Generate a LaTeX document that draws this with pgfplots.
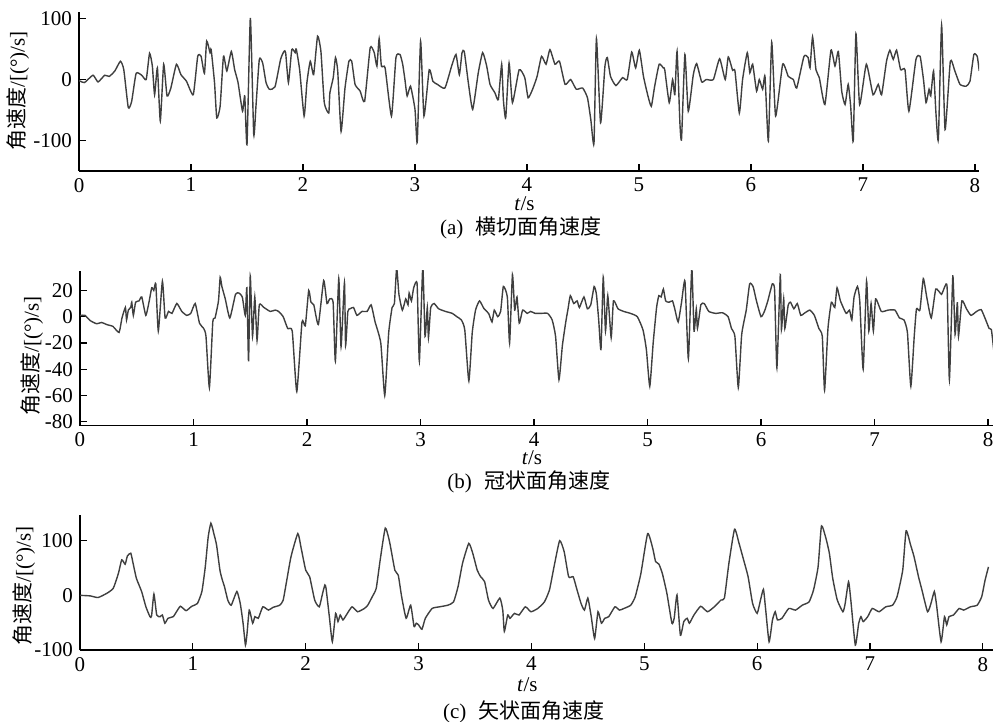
\documentclass[border=0pt]{standalone}
\usepackage{fontspec}
\setmainfont{Liberation Serif}
\newfontfamily\cjk{Noto Sans CJK SC}
\usepackage{pgfplots}
\pgfplotsset{compat=1.18}
\definecolor{trace}{HTML}{3F3F3F}
\pgfplotsset{
  panel/.style={
    scale only axis,
    anchor=south west,
    axis x line*=bottom, axis y line*=left,
    axis line style={black, line width=0.7bp},
    xmin=0, xtick={0,...,8},
    tick align=inside,
    major tick length=3.3bp,
    tick style={black, line width=0.6bp},
    tick label style={font=\fontsize{10.5bp}{12bp}\selectfont},
    /pgf/number format/assume math mode=true,
    label style={font=\fontsize{10.5bp}{12bp}\selectfont},
    xlabel={\textit{t}/s},
    ylabel={{\cjk 角速度}/[(°)/s]},
  },
  trace/.style={color=trace, line width=0.7bp, mark=none, smooth, tension=0.3},
}
\newcommand\capfont{\fontsize{10.5bp}{12bp}\selectfont}
\begin{document}
\begin{tikzpicture}
\useasboundingbox (0,0) rectangle (496.5bp,361bp);

% (a) 横切面
\begin{axis}[panel,
  at={(39.5bp,275.5bp)}, width=450bp, height=79.3bp,
  xmax=8.036, ymin=-150, ymax=110, ytick={-100,0,100},
  xlabel style={at={(axis description cs:0.495,0)}, anchor=center, yshift=-16.5bp},
  ylabel style={at={(axis description cs:-0.0678,0.506)}, anchor=center},
]
\addplot[trace] table {
0 -2
0.015 -3
0.05 -5
0.125 7
0.17 -4
0.23 7
0.27 5
0.32 14
0.37 30
0.40 16
0.44 -46
0.47 -36
0.51 10
0.56 7
0.60 0
0.63 43
0.655 22
0.675 -25
0.70 19
0.726 -68
0.756 25
0.786 -27
0.82 -14
0.87 25
0.91 8
0.96 -3
1.02 -25
1.06 38
1.09 38
1.12 10
1.14 63
1.17 44
1.18 49
1.21 -5
1.23 -63
1.26 -44
1.29 38
1.32 14
1.36 46
1.39 16
1.42 -5
1.46 -52
1.48 -27
1.50 -107
1.53 101
1.56 -90
1.58 -44
1.61 33
1.64 27
1.67 -5
1.70 -16
1.75 -12
1.80 33
1.83 46
1.845 44
1.87 -5
1.90 49
1.93 44
1.94 50
1.97 16
2.01 -60
2.035 -5
2.065 30
2.095 8
2.13 71
2.16 46
2.19 -38
2.23 -55
2.24 -22
2.27 3
2.29 36
2.31 14
2.34 -85
2.375 -14
2.41 30
2.435 30
2.465 -8
2.51 -19
2.55 -36
2.60 52
2.636 44
2.66 22
2.68 67
2.70 22
2.733 19
2.79 -60
2.83 36
2.866 41
2.89 25
2.91 0
2.93 -27
2.96 -11
3.00 -49
3.02 -103
3.05 63
3.08 -60
3.127 16
3.16 -3
3.20 -8
3.267 -14
3.327 22
3.366 41
3.396 8
3.42 44
3.44 46
3.476 -5
3.515 -49
3.565 11
3.604 44
3.64 22
3.67 -8
3.714 -22
3.744 -33
3.774 25
3.789 -33
3.81 -63
3.84 27
3.87 -38
3.93 16
3.98 3
4.01 -30
4.05 -16
4.09 5
4.13 38
4.17 25
4.205 49
4.25 25
4.29 30
4.34 -8
4.39 0
4.44 -16
4.497 -14
4.54 -30
4.57 -66
4.598 -105
4.62 67
4.657 -71
4.696 22
4.717 36
4.746 5
4.794 -10
4.853 3
4.895 0
4.935 45
4.97 19
5.003 48
5.04 5
5.08 -27
5.11 -44
5.14 -11
5.18 25
5.217 19
5.23 16
5.27 -38
5.30 0
5.32 -25
5.34 46
5.366 -74
5.38 -97
5.41 41
5.44 -52
5.485 8
5.515 26
5.56 -4
5.60 0
5.664 0
5.72 34
5.77 0
5.797 37
5.836 15
5.857 14
5.896 -55
5.925 0
5.967 44
5.99 11
6.015 25
6.05 -19
6.074 0
6.104 -16
6.125 5
6.155 -101
6.185 61
6.22 -60
6.283 25
6.333 5
6.378 0
6.408 -14
6.473 38
6.51 36
6.527 19
6.55 70
6.58 16
6.61 3
6.66 -41
6.714 48
6.75 22
6.78 46
6.81 -19
6.84 -41
6.868 -8
6.89 -44
6.913 -101
6.937 75
6.97 -41
7.03 25
7.09 -25
7.136 -8
7.166 -25
7.21 30
7.24 48
7.27 33
7.30 48
7.336 16
7.375 16
7.41 -52
7.473 33
7.51 38
7.54 0
7.563 -38
7.59 -16
7.605 -27
7.63 14
7.652 -57
7.673 -98
7.702 89
7.733 -82
7.78 30
7.82 14
7.866 -8
7.92 -11
7.955 -3
7.99 41
8.02 38
8.038 14
};
\end{axis}
\node[font=\capfont] at (260.5bp,247bp) {(a)\hspace{0.6em}{\cjk 横切面角速度}};

% (b) 冠状面
\begin{axis}[panel,
  at={(40bp,148.15bp)}, width=456.5bp, height=77.5bp,
  xmax=8.044, ymin=-83, ymax=35, ytick={-80,-60,...,20},
  xlabel style={at={(axis description cs:0.495,0)}, anchor=center, yshift=-16bp},
  ylabel style={at={(axis description cs:-0.0526,0.45)}, anchor=center},
]
\addplot[trace] table {
0 1
0.044 1
0.09 -3
0.147 -5.4
0.19 -4.4
0.235 -6
0.29 -7.4
0.344 -12
0.37 -1
0.40 7
0.41 -2.5
0.426 5
0.447 7
0.456 11
0.47 1
0.49 11
0.52 12
0.544 15
0.58 1
0.61 12
0.632 22
0.65 20
0.668 25
0.69 -11
0.726 27
0.75 -1
0.78 4
0.81 2.5
0.853 10
0.897 4
0.94 1
0.976 2.5
1.015 10
1.053 -5
1.09 -9
1.11 -15
1.14 -54
1.17 -4
1.19 -1
1.22 12
1.235 30
1.25 23
1.28 13.5
1.32 -1
1.37 17
1.40 18
1.43 15
1.456 1
1.47 22
1.485 -34
1.50 31
1.52 -15
1.54 15
1.56 -18
1.58 9
1.62 7
1.676 4
1.72 5
1.75 4
1.79 0
1.83 -9
1.87 -11
1.91 -57
1.956 -4
1.985 -7
2.015 20
2.035 11
2.06 9
2.10 -6
2.147 27.5
2.176 10
2.2 13.5
2.23 11
2.25 -34
2.28 29
2.30 -23
2.33 26
2.34 -22
2.36 4
2.38 6
2.41 7
2.44 1
2.485 4
2.53 4
2.565 9
2.6 -4
2.65 -20
2.685 -60
2.72 -12
2.75 7
2.77 10
2.79 37
2.81 17
2.84 5
2.87 13.5
2.89 9
2.90 18
2.92 12
2.94 22
2.97 25
2.99 -34
3.02 38
3.04 -15
3.06 7
3.07 -16
3.09 7
3.12 10
3.16 6
3.22 4
3.28 2.5
3.32 0
3.36 -2.5
3.39 -10
3.426 -49
3.456 -12
3.485 5
3.52 12
3.56 6
3.60 2.5
3.63 -4
3.65 5
3.68 0
3.706 4
3.73 23
3.765 15
3.785 -20
3.81 32
3.83 5
3.85 15
3.87 -5
3.90 5
3.94 2.5
3.97 4
4.01 2.5
4.06 2.5
4.12 2.5
4.16 -2.5
4.19 -15
4.22 -48
4.25 -22
4.28 -4
4.30 6
4.32 16
4.35 10
4.38 12
4.40 7
4.44 15
4.47 6
4.50 9
4.53 23
4.55 17
4.57 -2.5
4.59 -25
4.61 30
4.63 -11
4.65 16
4.68 -16
4.70 12
4.74 6
4.79 4
4.85 2.5
4.91 0
4.96 -10
4.99 -25
5.02 -53
5.05 -20
5.08 7
5.10 16
5.12 15
5.14 21
5.16 12
5.19 11
5.22 12
5.24 6
5.27 -4
5.30 11
5.33 27
5.36 -32
5.39 37
5.41 -11
5.43 6
5.44 -9
5.47 9
5.50 10
5.54 4
5.60 2.5
5.66 3
5.71 0
5.74 -9
5.77 -15
5.80 -54
5.83 -13.5
5.87 5
5.90 25
5.93 23
5.96 12
6.00 0
6.03 4
6.06 12
6.10 25
6.12 20
6.14 -39
6.17 32
6.18 -10
6.20 13.5
6.21 -9
6.24 9
6.26 11
6.29 6
6.32 10
6.35 1
6.38 2.5
6.43 5
6.47 1
6.51 -9
6.54 -15
6.56 -56
6.59 -9
6.62 11
6.65 7
6.67 22
6.70 12
6.75 2.5
6.78 5
6.80 -2.5
6.82 15
6.85 23
6.87 12
6.90 -40
6.93 27
6.95 -11
6.97 10
6.99 -11
7.01 13.5
7.06 4
7.12 5
7.18 5
7.22 -1
7.26 -2.5
7.29 -12
7.32 -53
7.35 -15
7.37 6
7.40 5
7.43 29
7.46 15
7.50 -1
7.54 21
7.59 17
7.62 23
7.64 22
7.66 -48
7.69 31
7.71 -13.5
7.73 11
7.74 -15
7.77 12
7.81 6
7.85 1
7.90 4
7.94 5.4
7.98 -2.5
8.01 -9
8.03 -10
8.05 -25
};
\end{axis}
\node[font=\capfont] at (264.5bp,120bp) {(b)\hspace{0.6em}{\cjk 冠状面角速度}};

% (c) 矢状面
\begin{axis}[panel,
  at={(40bp,36bp)}, width=456.5bp, height=67.5bp,
  xmax=8.09, ymin=-100, ymax=147, ytick={-100,0,100},
  xlabel style={at={(axis description cs:0.49,0)}, anchor=center, yshift=-17.5bp},
  ylabel style={at={(axis description cs:-0.0613,0.474)}, anchor=center},
]
\addplot[trace] table {
0 0
0.09 -1
0.16 -4
0.24 4
0.295 13
0.34 40
0.37 65
0.40 57
0.42 72
0.45 77
0.47 59
0.50 31
0.546 7
0.584 -21
0.62 -39
0.634 -38
0.655 2.4
0.68 -36
0.71 -39
0.73 -36
0.752 -51
0.78 -42
0.826 -39
0.855 -30
0.89 -20
0.94 -28
0.99 -20
1.04 -15
1.08 7
1.11 52
1.136 107
1.16 132
1.186 113
1.21 92
1.24 46
1.26 29
1.28 16
1.31 -9
1.34 -18
1.39 7
1.42 -15
1.445 -51
1.466 -91
1.48 -70
1.50 -27
1.53 -51
1.55 -39
1.58 -42
1.62 -21
1.67 -27
1.71 -22
1.77 -18
1.80 -9
1.83 25
1.87 71
1.93 113
1.96 86
2.00 46
2.035 34
2.08 -9
2.12 -21
2.15 4
2.17 19
2.18 13
2.21 -40
2.236 -85
2.265 -33
2.286 -48
2.306 -36
2.33 -45
2.36 -36
2.41 -21
2.46 -30
2.52 -24
2.55 -18
2.59 -2.4
2.625 13
2.66 65
2.705 123
2.743 98
2.79 46
2.82 37
2.85 -2.4
2.89 -42
2.93 -18
2.96 -57
2.98 -51
3.00 -54
3.03 -62
3.06 -42
3.12 -24
3.186 -21
3.26 -18
3.31 -12
3.35 16
3.39 59
3.445 95
3.48 77
3.52 46
3.55 34
3.585 25
3.62 -9
3.66 -24
3.72 -5
3.746 -27
3.76 -66
3.79 -36
3.81 -42
3.85 -33
3.89 -36
3.946 -21
3.996 -30
4.056 -24
4.115 -12
4.16 10
4.20 52
4.25 100
4.29 80
4.33 34
4.37 34
4.40 13
4.44 -15
4.47 -27
4.50 -5
4.53 -39
4.56 -79
4.59 -30
4.62 -51
4.65 -42
4.685 -39
4.74 -21
4.78 -27
4.82 -24
4.88 -18
4.92 -2.4
4.97 40
5.03 113
5.075 86
5.10 62
5.13 57
5.16 40
5.20 4
5.245 -51
5.265 -42
5.29 0.6
5.32 -73
5.35 -48
5.38 -42
5.40 -51
5.44 -36
5.50 -20
5.56 -30
5.62 -21
5.68 -8.5
5.71 -5
5.75 59
5.80 121
5.84 95
5.88 65
5.92 34
5.96 -15
6.00 -33
6.03 -8.5
6.056 11
6.076 -27
6.106 -85
6.136 -45
6.16 -30
6.18 -45
6.22 -42
6.28 -24
6.34 -27
6.40 -18
6.46 -12
6.50 10
6.54 52
6.57 127
6.61 104
6.64 77
6.67 31
6.71 -8.5
6.76 -30
6.78 -15
6.81 25
6.83 -8.5
6.87 -91
6.90 -51
6.92 -39
6.94 -48
6.98 -39
7.02 -24
7.08 -30
7.14 -21
7.20 -18
7.24 -2.4
7.29 46
7.32 118
7.36 92
7.39 71
7.43 34
7.46 10
7.51 -30
7.54 -15
7.57 7
7.59 -18
7.63 -85
7.66 -39
7.68 -54
7.70 -39
7.74 -36
7.79 -24
7.83 -27
7.89 -21
7.95 -18
7.99 -2.4
8.02 28
8.05 52
};
\end{axis}
\node[font=\capfont] at (262bp,5bp) {(c)\hspace{0.6em}{\cjk 矢状面角速度}};
\end{tikzpicture}
\end{document}
